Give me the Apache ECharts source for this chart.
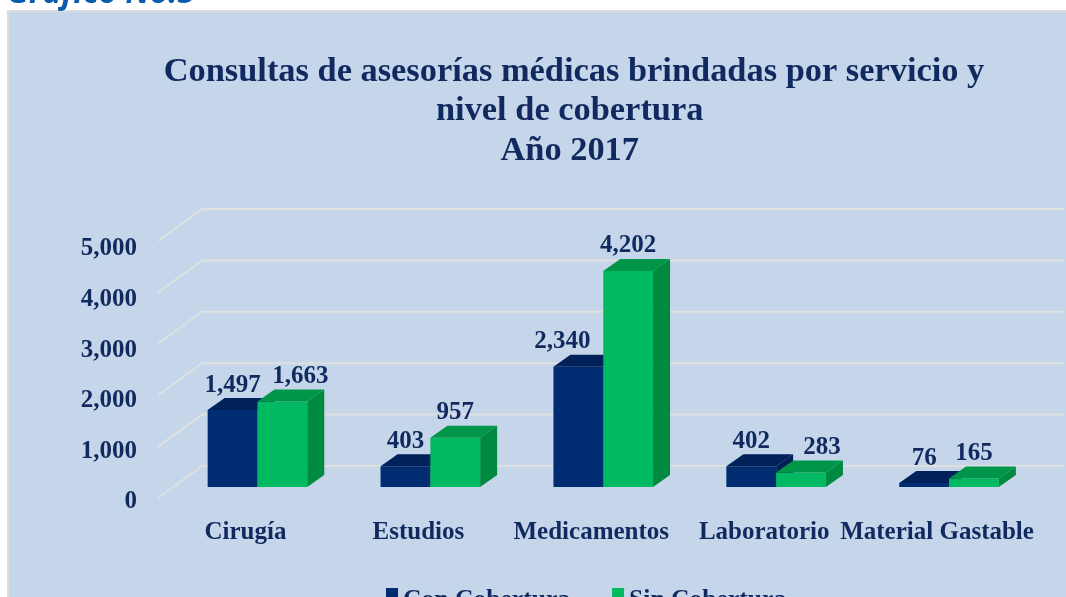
<!DOCTYPE html>
<html>
<head>
<meta charset="utf-8">
<style>
  html, body { margin: 0; padding: 0; background: #fff; overflow: hidden; }
  #chart { width: 1066px; height: 597px; }
</style>
<script src="https://cdn.jsdelivr.net/npm/echarts@6/dist/echarts.min.js"></script>
</head>
<body>
<div id="chart"></div>
<script>
const categories = ["Cirugía", "Estudios", "Medicamentos", "Laboratorio", "Material Gastable"];
const conCobertura = [1497, 403, 2340, 402, 76];
const sinCobertura = [1663, 957, 4202, 283, 165];
const valueTicks = [0, 1000, 2000, 3000, 4000, 5000];

const serif = '"Liberation Serif", serif';
const textColor = "#10295f";
const navy = { front: "#002d72", top: "#00215a", side: "#001f55" };
const green = { front: "#00b960", top: "#00964a", side: "#008a40" };

// hand placed labels in the original, x shift from the bar centre
const labelShiftCon = [0, 0, -16, 0, 0];
const labelShiftSin = [18, 0, 0, 21, 0];

const chart = echarts.init(document.getElementById("chart"));

function bar3d(colors, side, shifts) {
  return function (params, api) {
    const band = api.size([1, 0])[0];
    const w = band * 0.288;
    const dx = 17, dy = 12;
    const top = api.coord([api.value(0), api.value(1)]);
    const base = api.coord([api.value(0), 0]);
    const x = side === 0 ? top[0] - w : top[0];
    const r = x + w;
    const label = echarts.format.addCommas(api.value(1));
    return {
      type: "group",
      children: [
        { type: "rect", shape: { x: x, y: top[1], width: w, height: base[1] - top[1] },
          style: { fill: colors.front } },
        { type: "polygon",
          shape: { points: [[x, top[1]], [x + dx, top[1] - dy], [r + dx, top[1] - dy], [r, top[1]]] },
          style: { fill: colors.top } },
        { type: "polygon",
          shape: { points: [[r, top[1]], [r + dx, top[1] - dy], [r + dx, base[1] - dy], [r, base[1]]] },
          style: { fill: colors.side } },
        { type: "text", z2: 10,
          style: { text: label, x: x + w / 2 + shifts[params.dataIndex], y: top[1] - 25,
            align: "center", verticalAlign: "middle", fill: textColor,
            font: 'bold 25px ' + serif } }
      ]
    };
  };
}

// floor and back wall lines, in 3d perspective
function wallLine(params, api) {
  const p = api.coord([0, api.value(0)]);
  const left = params.coordSys.x;
  const y = p[1];
  return {
    type: "polyline",
    shape: { points: [[left - 13, y + 11], [left + 31, y - 21], [1065, y - 21]] },
    style: { fill: "none", stroke: "#dfe0e0", lineWidth: 2 }
  };
}

chart.setOption({
  animation: false,
  backgroundColor: "#fff",
  graphic: [
    { type: "rect", z: -10, shape: { x: 8, y: 11, width: 1060, height: 590 },
      style: { fill: "#c5d6ea", stroke: "#dcdcdc", lineWidth: 2 } },
    { type: "text", z: -9, left: 7, top: -22,
      style: { text: "Gráfico No.5", fill: "#0b5cad", font: 'italic bold 32px "Open Sans", sans-serif' } }
  ],
  title: {
    text: "Consultas de asesorías médicas brindadas por servicio y\nnivel de cobertura \nAño 2017 ",
    left: 569,
    top: 47,
    textAlign: "center",
    textStyle: { fontFamily: serif, fontSize: 34.4, fontWeight: "bold", color: textColor, lineHeight: 39.5 }
  },
  legend: {
    left: 381,
    top: 582,
    itemWidth: 12,
    itemHeight: 12,
    itemGap: 42,
    icon: "rect",
    data: ["Con Cobertura", "Sin Cobertura"],
    formatter: "{t|{name}}",
    textStyle: {
      rich: {
        t: { fontFamily: serif, fontSize: 25.6, fontWeight: "bold", color: textColor, padding: [12, 0, 0, 0] }
      }
    }
  },
  grid: [
    { left: 171, width: 864.5, top: 230, height: 257 },
    { left: 158, width: 864.5, top: 249, height: 253 }
  ],
  xAxis: [
    { type: "category", gridIndex: 0, data: categories,
      axisLine: { show: false }, axisTick: { show: false }, splitLine: { show: false },
      axisLabel: { interval: 0, margin: 33, padding: [0, 24, 0, 0], color: textColor,
        fontFamily: serif, fontSize: 25, fontWeight: "bold" } },
    { type: "category", gridIndex: 1, data: categories, show: false }
  ],
  yAxis: [
    { type: "value", gridIndex: 0, min: 0, max: 5000, interval: 1000, show: false },
    { type: "value", gridIndex: 1, min: 0, max: 5000, interval: 1000,
      axisLine: { show: false }, axisTick: { show: false }, splitLine: { show: false },
      axisLabel: { margin: 21, color: textColor, fontFamily: serif, fontSize: 25, fontWeight: "bold",
        formatter: (v) => echarts.format.addCommas(v) } }
  ],
  series: [
    { type: "custom", name: "walls", coordinateSystem: "cartesian2d", xAxisIndex: 0, yAxisIndex: 0,
      clip: false, silent: true, z: 1, renderItem: wallLine, encode: { y: 0 },
      data: valueTicks.map((v) => [v]) },
    { type: "custom", name: "Con Cobertura", xAxisIndex: 0, yAxisIndex: 0, clip: false, z: 2,
      itemStyle: { color: navy.front },
      renderItem: bar3d(navy, 0, labelShiftCon), encode: { x: 0, y: 1 },
      data: conCobertura.map((v, i) => [i, v]) },
    { type: "custom", name: "Sin Cobertura", xAxisIndex: 0, yAxisIndex: 0, clip: false, z: 3,
      itemStyle: { color: green.front },
      renderItem: bar3d(green, 1, labelShiftSin), encode: { x: 0, y: 1 },
      data: sinCobertura.map((v, i) => [i, v]) }
  ]
});
</script>
</body>
</html>
